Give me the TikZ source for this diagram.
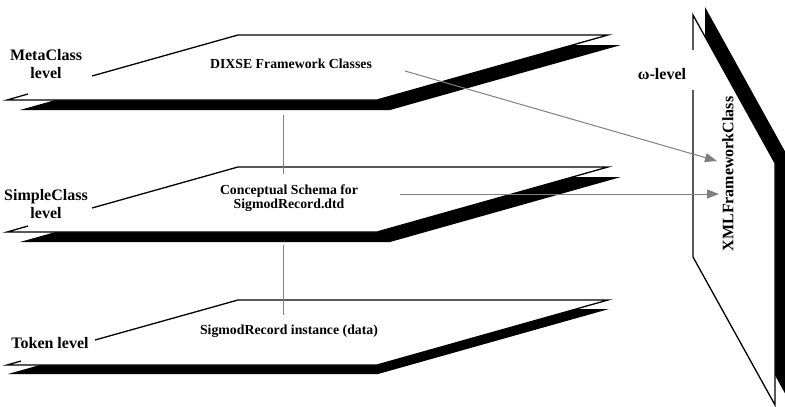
\documentclass[tikz,border=0pt]{standalone}
\usepackage{fontspec}
\setmainfont{Liberation Serif}
\usetikzlibrary{arrows.meta}
\begin{document}
\begin{tikzpicture}[x=1pt,y=-1pt,line join=miter,
  edge/.style={draw=black,line width=1.3pt},
  shadow/.style={fill=black},
  sheet/.style={fill=white},
  link/.style={draw=black!50,line width=1pt},
  arr/.style={link,-{Triangle[length=12pt,width=9pt]}},
  biglbl/.style={font=\bfseries\fontsize{16}{18}\selectfont,align=center,inner sep=0pt},
  smalllbl/.style={font=\bfseries\fontsize{13.8}{12.5}\selectfont,align=center,inner sep=0pt}]
\useasboundingbox (0,0) rectangle (785,407);

% ---- MetaClass plane
\begin{scope}[shift={(0,35)}]
  \fill[shadow,shift={(13,10)}] (7,65) -- (377,65) -- (608,0) -- (238,0) -- cycle;
  \fill[sheet] (7,65) -- (377,65) -- (608,0) -- (238,0) -- cycle;
  \draw[edge] (92,41) -- (238,0) -- (608,0) -- (377,65) -- (7,65) -- (28,59);
\end{scope}
% ---- SimpleClass plane
\begin{scope}[shift={(0,167)}]
  \fill[shadow,shift={(13,10)}] (7,65) -- (377,65) -- (608,0) -- (238,0) -- cycle;
  \fill[sheet] (7,65) -- (377,65) -- (608,0) -- (238,0) -- cycle;
  \draw[edge] (92,41) -- (238,0) -- (608,0) -- (377,65) -- (7,65) -- (28,59);
\end{scope}
% ---- Token plane
\begin{scope}[shift={(0,300)}]
  \fill[shadow,shift={(1,9)}] (7,65) -- (377,65) -- (608,0) -- (238,0) -- cycle;
  \fill[sheet] (7,65) -- (377,65) -- (608,0) -- (238,0) -- cycle;
  \draw[edge] (95,40) -- (238,0) -- (608,0) -- (377,65) -- (7,65) -- (21,61);
\end{scope}
% ---- omega plane
\fill[shadow,shift={(12,-8)}] (693,15) -- (775,163) -- (775,405) -- (693,257) -- cycle;
\fill[sheet] (693,15) -- (775,163) -- (775,405) -- (693,257) -- cycle;
\draw[edge] (693,90) -- (693,257) -- (775,405) -- (775,163) -- (693,15) -- (693,50);

% ---- labels
\node[biglbl] (meta) at (46,64) {MetaClass\\level};
\node[biglbl] (simple) at (46,204) {SimpleClass\\level};
\node[biglbl] (token) at (50,343) {Token level};
\node[biglbl] (omega) at (662,74) {ω-level};
\node[biglbl,rotate=90] (xml) at (728,174) {XMLFrameworkClass};
\node[smalllbl] (dixse) at (291,64) {DIXSE Framework Classes};
\node[smalllbl] (schema) at (289,198) {Conceptual Schema for\\SigmodRecord.dtd};
\node[smalllbl] (inst) at (289,331) {SigmodRecord instance (data)};

% ---- connectors
\coordinate (v1a) at (283,115);
\coordinate (v1b) at (283,174);
\coordinate (v2a) at (283,245);
\coordinate (v2b) at (283,315);
\coordinate (a1s) at (405,71);
\coordinate (a1e) at (717,161);
\coordinate (a2s) at (400,194);
\coordinate (a2e) at (719,194);
\draw[link] (v1a) -- (v1b);
\draw[link] (v2a) -- (v2b);
\draw[arr] (a1s) -- (a1e);
\draw[arr] (a2s) -- (a2e);
\end{tikzpicture}
\end{document}
